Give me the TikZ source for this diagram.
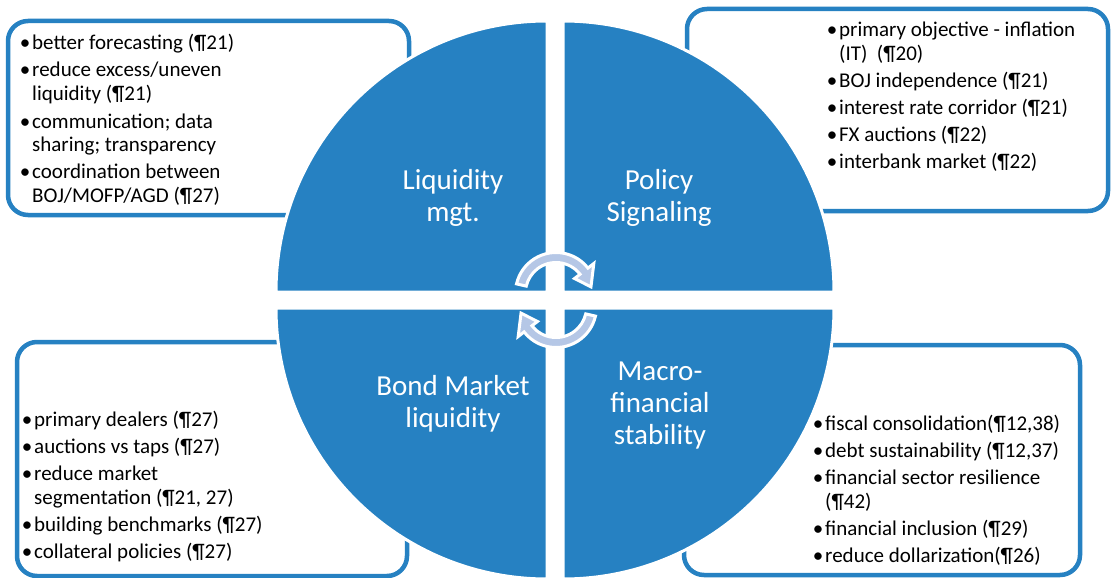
\documentclass[tikz,border=0pt]{standalone}
\usepackage{fontspec}
\setmainfont{Carlito}
\definecolor{quadblue}{RGB}{38,129,194}
\definecolor{cyclefill}{RGB}{181,199,230}
% one bulleted entry with a hanging indent for its wrapped lines
\newcommand\bitem[1]{\par\hangindent=14pt\hangafter=1\noindent\makebox[14pt][c]{\textbullet}#1}
% a bulleted list whose baseline is that of its first line
\newcommand\blist[1]{\parbox[t]{330pt}{\parindent=0pt\parskip=3pt\rightskip=0pt plus 1fil\relax#1}}
% a centred title whose baseline is that of its first line
\newcommand\qtitle[1]{\parbox[t]{220pt}{\centering#1}}
\tikzset{
  infobox/.style={draw=quadblue, line width=4.5pt, rounded corners=20pt, fill=white},
  quadrant/.style={fill=quadblue, draw=white, line width=3pt},
  cyclearrow/.style={fill=cyclefill, draw=white, line width=3pt, line join=miter},
  bullets/.style={anchor=base west, inner sep=0pt, font=\fontsize{21}{24}\selectfont},
  quadlabel/.style={anchor=base, inner sep=0pt, text=white,
    font=\fontsize{29}{32}\selectfont}
}
\begin{document}
\begin{tikzpicture}[x=1pt,y=-1pt]
\useasboundingbox (0,0) rectangle (1111,578);
\fill[white] (0,0) rectangle (1111,578);

% text boxes behind the circle
\draw[infobox] (8,21) rectangle (409,215);
\draw[infobox] (687,9) rectangle (1108,211);
\draw[infobox] (17,342) rectangle (407,576);
\draw[infobox] (684,345) rectangle (1080,575);

% four quadrants of the circle
\draw[quadrant] (547,292) -- (276,292) arc[start angle=180, end angle=270, radius=271] -- cycle;
\draw[quadrant] (563,292) -- (563,21) arc[start angle=270, end angle=360, radius=271] -- cycle;
\draw[quadrant] (563,308) -- (834,308) arc[start angle=0, end angle=90, radius=271] -- cycle;
\draw[quadrant] (547,308) -- (547,579) arc[start angle=90, end angle=180, radius=271] -- cycle;

% circular arrows in the middle
\begin{scope}[shift={(556,293)}]
  \draw[cyclearrow] (193:40.5) arc[start angle=193, end angle=322, radius=40.5]
    -- (322:48) -- (350:35.5) -- (322:23.5) -- (322:30.5)
    arc[start angle=322, end angle=193, radius=30.5] -- cycle;
\end{scope}
\begin{scope}[shift={(556,307)}]
  \draw[cyclearrow] (13:40.5) arc[start angle=13, end angle=142, radius=40.5]
    -- (142:48) -- (170:35.5) -- (142:23.5) -- (142:30.5)
    arc[start angle=142, end angle=13, radius=30.5] -- cycle;
\end{scope}

% quadrant titles
\node[quadlabel] (liq) at (453,189) {\qtitle{Liquidity\\mgt.}};
\node[quadlabel] (pol) at (659,189) {\qtitle{Policy\\Signaling}};
\node[quadlabel] (bond) at (453,395) {\qtitle{Bond Market\\liquidity}};
\node[quadlabel] (macro) at (660,380) {\qtitle{Macro-\\financial\\stability}};

% bullet lists
\node[bullets] (liqlist) at (18,50) {\blist{%
  \bitem{better forecasting (¶21)}%
  \bitem{reduce excess/uneven\newline liquidity (¶21)}%
  \bitem{communication; data\newline sharing; transparency}%
  \bitem{coordination between\newline BOJ/MOFP/AGD (¶27)}}};
\node[bullets] (pollist) at (825,37) {\blist{%
  \bitem{primary objective - inflation\newline (IT)\ \ (¶20)}%
  \bitem{BOJ independence (¶21)}%
  \bitem{interest rate corridor (¶21)}%
  \bitem{FX auctions (¶22)}%
  \bitem{interbank market (¶22)}}};
\node[bullets] (bondlist) at (20,426) {\blist{%
  \bitem{primary dealers (¶27)}%
  \bitem{auctions vs taps (¶27)}%
  \bitem{reduce market\newline segmentation (¶21, 27)}%
  \bitem{building benchmarks (¶27)}%
  \bitem{collateral policies (¶27)}}};
\node[bullets] (macrolist) at (811,430) {\blist{%
  \bitem{fiscal consolidation(¶12,38)}%
  \bitem{debt sustainability (¶12,37)}%
  \bitem{financial sector resilience\newline (¶42)}%
  \bitem{financial inclusion (¶29)}%
  \bitem{reduce dollarization(¶26)}}};
\end{tikzpicture}
\end{document}
